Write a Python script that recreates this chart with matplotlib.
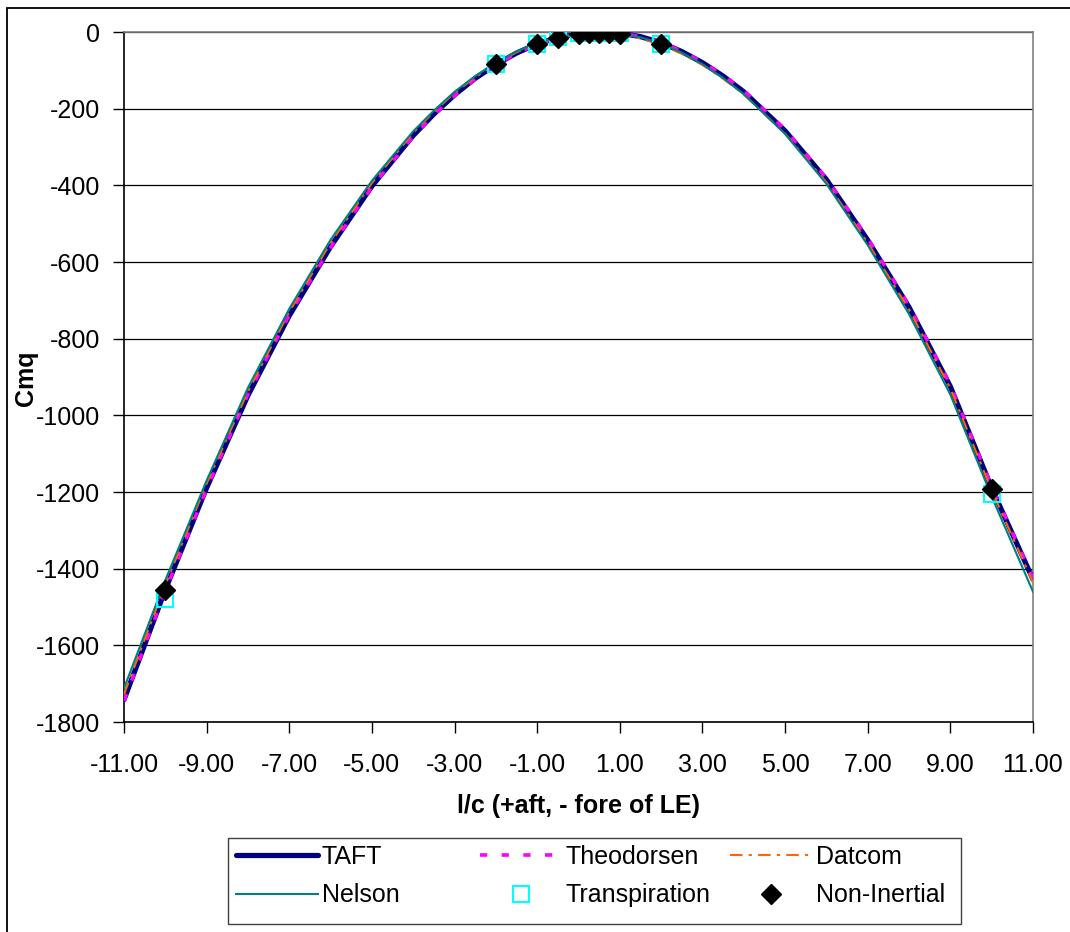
import matplotlib
matplotlib.use("Agg")
import matplotlib.pyplot as plt
from matplotlib.patches import Rectangle

plt.rcParams['font.family'] = ['Liberation Sans', 'DejaVu Sans']
plt.rcParams['axes.unicode_minus'] = False

# Moment damping derivative vs. pivot location
x_lc = [-11, -10, -9, -8, -7, -6, -5, -4,
        -3.5, -3, -2.5, -2, -1.5, -1, -0.5, 0, 0.5, 1, 1.5, 2, 2.5, 3, 3.5,
        4, 5, 6, 7, 8, 9, 10, 11]

taft = [-1742, -1455, -1189, -948, -740, -560, -402, -270,
        -214, -164, -121, -85, -55, -31, -15, -4, -1, -3, -12, -28, -51, -80, -115,
        -156, -258, -385, -543, -718, -925, -1190, -1428]
theodorsen = [-1745, -1458, -1192, -945, -738, -562, -404, -272,
              -216, -166, -123, -86, -56, -32, -15, -4, -1, -3, -12, -27, -50, -78, -113,
              -153, -254, -382, -538, -714, -920, -1186, -1425]
datcom = [-1728, -1442, -1178, -938, -730, -550, -394, -263,
          -208, -159, -118, -82, -53, -30, -14, -5, -3, -6, -17, -33, -57, -86, -122,
          -163, -265, -392, -550, -724, -930, -1196, -1436]
nelson = [-1712, -1430, -1170, -928, -722, -542, -388, -259,
          -205, -156, -115, -80, -51, -28, -13, -4, -2, -4, -14, -30, -54, -84, -120,
          -162, -266, -396, -556, -736, -946, -1212, -1460]

# CFD runs
x_cfd = [-10, -2, -1, -0.5, 0, 0.25, 0.5, 0.75, 1, 2, 10]
transpiration = [-1479, -83, -30, -12, -3, -2, -2, -3, -3, -30, -1204]
non_inertial = [-1455, -84, -31, -15, -4, -3, -2, -3, -4, -31, -1191]

W, H = 1070, 932
fig = plt.figure(figsize=(W / 100, H / 100), dpi=100)
ax = fig.add_axes([124 / W, 1 - 722 / H, (1033 - 124) / W, (722 - 32) / H])

l_taft, = ax.plot(x_lc, taft, color='#000080', lw=3.75, solid_capstyle='round',
                  solid_joinstyle='round', zorder=3, label='TAFT')
l_theo, = ax.plot(x_lc, theodorsen, color='#FF00FF', lw=2.6, linestyle=(0, (2, 4)),
                  zorder=4, label='Theodorsen')
l_datcom, = ax.plot(x_lc, datcom, color='#FF6600', lw=1.5,
                    linestyle=(0, (6, 3, 1.5, 3)), zorder=5, label='Datcom')
l_nelson, = ax.plot(x_lc, nelson, color='#008080', lw=1.5, zorder=6, label='Nelson')
l_trans, = ax.plot(x_cfd, transpiration, linestyle='none', marker='s', ms=12,
                   mfc='none', mec='#00FFFF', mew=1.5, zorder=7, label='Transpiration')
l_noni, = ax.plot(x_cfd, non_inertial, linestyle='none', marker='D', ms=10.5,
                  color='black', zorder=8, label='Non-Inertial')

ax.set_xlim(-11, 11)
ax.set_ylim(-1800, 0)
ax.set_xticks(range(-11, 12, 2))
ax.set_xticklabels([f'{v:.2f}' for v in range(-11, 12, 2)])
ax.set_yticks(range(-1800, 1, 200))
ax.tick_params(axis='both', labelsize=18, direction='out', length=8, width=1,
               color='black')
ax.tick_params(axis='y', pad=9)
ax.tick_params(axis='x', pad=14)

ax.set_axisbelow(True)
ax.yaxis.grid(True, color='black', lw=0.9)
ax.spines['left'].set_color('black')
ax.spines['bottom'].set_color('black')
ax.spines['top'].set_color('#808080')
ax.spines['right'].set_color('#808080')
for s in ax.spines.values():
    s.set_linewidth(1.2)

fig.text(26 / W, 1 - 378 / H, 'Cmq', rotation=90, fontsize=18, fontweight='bold',
         ha='center', va='center')
fig.text(578.5 / W, 1 - 806 / H, 'l/c (+aft, - fore of LE)', fontsize=18,
         fontweight='bold', ha='center', va='center')

# outer chart border (only the left and top edges fall inside the image)
fig.add_artist(Rectangle((7.3 / W, -0.5), 2.0, 1.5 - 8 / H, transform=fig.transFigure,
                         fill=False, edgecolor='black', lw=1.3, clip_on=False))

# legend frame plus three columns
fig.add_artist(Rectangle((227.7 / W, 1 - 924.3 / H), (961 - 227.7) / W, (924.3 - 837.7) / H,
                         transform=fig.transFigure, fill=False, edgecolor='#404040', lw=1))
columns = [([l_taft, l_nelson], 236), ([l_theo, l_trans], 480), ([l_datcom, l_noni], 730)]
for handles, x0 in columns:
    fig.legend(handles=handles, loc='upper left', bbox_to_anchor=(x0 / W, 1 - 845 / H),
               frameon=False, fontsize=18, handlelength=3.28, handletextpad=0.16,
               labelspacing=0.57, borderpad=0, borderaxespad=0, numpoints=1)

fig.savefig('out.png', dpi=100)
